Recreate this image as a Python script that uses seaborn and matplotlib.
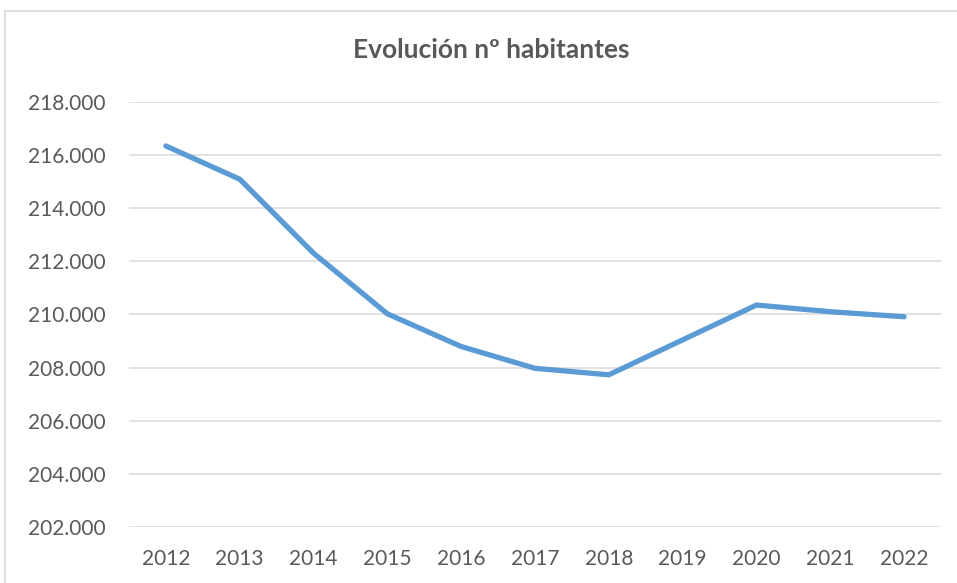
import pandas as pd
import matplotlib.pyplot as plt
import seaborn as sns
from matplotlib.patches import Rectangle
from matplotlib.ticker import FuncFormatter

# datos
anios = ['2012', '2013', '2014', '2015', '2016', '2017', '2018', '2019', '2020', '2021', '2022']
habitantes = [216335, 215085, 212300, 210020, 208790, 207970, 207725, 209040, 210350, 210100, 209910]

df = pd.DataFrame({'Anio': anios, 'Habitantes': habitantes})

sns.set_style("white")
plt.rcParams['font.family'] = ['Lato', 'DejaVu Sans']

fig = plt.figure(figsize=(9.57, 5.83), dpi=100)
ax = fig.add_axes([129 / 957, 1 - 527 / 583, (941 - 129) / 957, (527 - 101.7) / 583])

sns.lineplot(data=df, x='Anio', y='Habitantes', ax=ax, color='#5B9BD5',
             linewidth=3.8, solid_capstyle='round', solid_joinstyle='round', sort=False)

ax.set_xlim(-0.5, len(anios) - 0.5)
ax.set_ylim(202000, 218000)
ax.set_yticks(range(202000, 218001, 2000))
ax.yaxis.set_major_formatter(FuncFormatter(lambda v, p: f'{int(v):,}'.replace(',', '.')))
ax.grid(axis='y', color='#D9D9D9', linewidth=1.1)
ax.set_axisbelow(True)
for s in ax.spines.values():
    s.set_visible(False)
ax.tick_params(axis='both', length=0, labelsize=15, colors='#595959')
ax.tick_params(axis='y', pad=17)
ax.tick_params(axis='x', pad=16)
ax.set_xlabel('')
ax.set_ylabel('')

fig.text(491 / 957, 1 - 50 / 583, 'Evolución nº habitantes', ha='center', va='center',
         fontsize=19, fontweight='bold', color='#595959')

# marco exterior del gráfico
fig.patches.append(Rectangle((5 / 957, -0.1), 1.2, 1.1 - 11 / 583, transform=fig.transFigure,
                             fill=False, edgecolor='#D9D9D9', linewidth=1.2))

plt.savefig('out.png', dpi=100)
